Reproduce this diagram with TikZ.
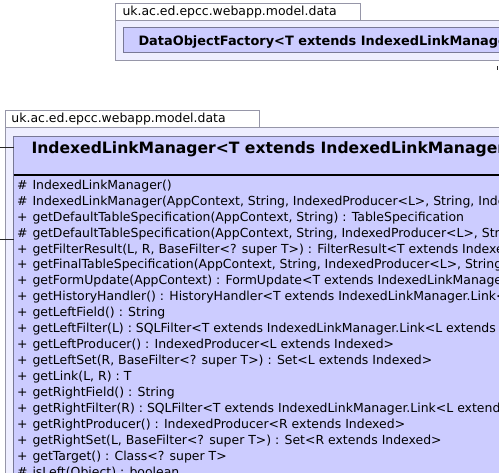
\documentclass[tikz,border=0pt]{standalone}
\usepackage{fontspec}
\setmainfont{DejaVu Sans}
\definecolor{pkgfill}{RGB}{238,238,255}
\definecolor{pkgline}{RGB}{150,150,168}
\definecolor{clsfill}{RGB}{204,204,255}
\definecolor{clsline}{RGB}{120,120,150}
\tikzset{
  pkgtab/.style={draw=pkgline, fill=white, line width=0.9pt},
  pkgbody/.style={draw=pkgline, fill=pkgfill, line width=0.9pt},
  clsbox/.style={draw=clsline, fill=clsfill, line width=0.9pt},
  txt/.style={anchor=base west, inner sep=0pt, outer sep=0pt, font=\fontsize{12.45}{14}\selectfont, text=black},
  conn/.style={draw=black!85, line width=0.9pt}
}
\begin{document}
\begin{tikzpicture}[x=1pt,y=-1pt]
\useasboundingbox (0,0) rectangle (499,473);
\clip (0,0) rectangle (499,473);
% ---------- top package ----------
\draw[pkgtab] (115.5,3.5) rectangle (360,20.5);
\draw[pkgbody] (115.5,20.5) rectangle (530,60.5);
\node[txt] (toplabel) at (122.5,16) {uk.ac.ed.epcc.webapp.model.data};
\draw[clsbox] (123.5,27.5) rectangle (530,52.5);
\node[txt, font=\fontsize{12.9}{15}\selectfont\bfseries] (dof) at (138.5,46) {DataObjectFactory<T extends IndexedLinkManager};
\coordinate (stubA) at (497.5,66);
\coordinate (stubB) at (497.5,70);
\draw[conn] (stubA) -- (stubB);
% ---------- bottom package ----------
\draw[pkgtab] (5.5,110.5) rectangle (259.5,127.5);
\draw[pkgbody] (5.5,127.5) rectangle (530,490);
\node[txt] (botlabel) at (11.5,122.7) {uk.ac.ed.epcc.webapp.model.data};
\draw[clsbox] (13.5,136.5) rectangle (530,490);
\coordinate (sepL) at (13.5,174.7);
\coordinate (sepR) at (530,174.7);
\draw[black, line width=2pt] (sepL) -- (sepR);
\node[txt, font=\fontsize{15.6}{18}\selectfont\bfseries] (ilm) at (31.5,153.3) {IndexedLinkManager<T extends IndexedLinkManager};
% connectors on the left
\coordinate (c1a) at (0,147.7);
\coordinate (c1b) at (13.5,147.7);
\coordinate (c2a) at (0,239.5);
\coordinate (c2b) at (13.5,239.5);
\draw[conn] (c1a) -- (c1b);
\draw[conn] (c2a) -- (c2b);
% ---------- members ----------
\def\rowy#1{189.3+15.93*(#1-1)}
\node[txt] (v1) at (17,{\rowy{1}}) {\#};
\node[txt] (m1) at (32.5,{\rowy{1}}) {IndexedLinkManager()};
\node[txt] (v2) at (17,{\rowy{2}}) {\#};
\node[txt] (m2) at (32.5,{\rowy{2}}) {IndexedLinkManager(AppContext, String, IndexedProducer<L>, String, Indexed};
\node[txt] (v3) at (17,{\rowy{3}}) {+};
\node[txt] (m3) at (32.5,{\rowy{3}}) {getDefaultTableSpecification(AppContext, String) : TableSpecification};
\node[txt] (v4) at (17,{\rowy{4}}) {\#};
\node[txt] (m4) at (32.5,{\rowy{4}}) {getDefaultTableSpecification(AppContext, String, IndexedProducer<L>, String};
\node[txt] (v5) at (17,{\rowy{5}}) {+};
\node[txt] (m5) at (32.5,{\rowy{5}}) {getFilterResult(L, R, BaseFilter<? super T>) : FilterResult<T extends Indexed};
\node[txt] (v6) at (17,{\rowy{6}}) {+};
\node[txt] (m6) at (32.5,{\rowy{6}}) {getFinalTableSpecification(AppContext, String, IndexedProducer<L>, String};
\node[txt] (v7) at (17,{\rowy{7}}) {+};
\node[txt] (m7) at (32.5,{\rowy{7}}) {getFormUpdate(AppContext) : FormUpdate<T extends IndexedLinkManager};
\node[txt] (v8) at (17,{\rowy{8}}) {+};
\node[txt] (m8) at (32.5,{\rowy{8}}) {getHistoryHandler() : HistoryHandler<T extends IndexedLinkManager.Link<};
\node[txt] (v9) at (17,{\rowy{9}}) {+};
\node[txt] (m9) at (32.5,{\rowy{9}}) {getLeftField() : String};
\node[txt] (v10) at (17,{\rowy{10}}) {+};
\node[txt] (m10) at (32.5,{\rowy{10}}) {getLeftFilter(L) : SQLFilter<T extends IndexedLinkManager.Link<L extends Indexed};
\node[txt] (v11) at (17,{\rowy{11}}) {+};
\node[txt] (m11) at (32.5,{\rowy{11}}) {getLeftProducer() : IndexedProducer<L extends Indexed>};
\node[txt] (v12) at (17,{\rowy{12}}) {+};
\node[txt] (m12) at (32.5,{\rowy{12}}) {getLeftSet(R, BaseFilter<? super T>) : Set<L extends Indexed>};
\node[txt] (v13) at (17,{\rowy{13}}) {+};
\node[txt] (m13) at (32.5,{\rowy{13}}) {getLink(L, R) : T};
\node[txt] (v14) at (17,{\rowy{14}}) {+};
\node[txt] (m14) at (32.5,{\rowy{14}}) {getRightField() : String};
\node[txt] (v15) at (17,{\rowy{15}}) {+};
\node[txt] (m15) at (32.5,{\rowy{15}}) {getRightFilter(R) : SQLFilter<T extends IndexedLinkManager.Link<L extends};
\node[txt] (v16) at (17,{\rowy{16}}) {+};
\node[txt] (m16) at (32.5,{\rowy{16}}) {getRightProducer() : IndexedProducer<R extends Indexed>};
\node[txt] (v17) at (17,{\rowy{17}}) {+};
\node[txt] (m17) at (32.5,{\rowy{17}}) {getRightSet(L, BaseFilter<? super T>) : Set<R extends Indexed>};
\node[txt] (v18) at (17,{\rowy{18}}) {+};
\node[txt] (m18) at (32.5,{\rowy{18}}) {getTarget() : Class<? super T>};
\node[txt] (v19) at (17,{\rowy{19}}) {\#};
\node[txt] (m19) at (32.5,{\rowy{19}}) {isLeft(Object) : boolean};
\end{tikzpicture}
\end{document}
